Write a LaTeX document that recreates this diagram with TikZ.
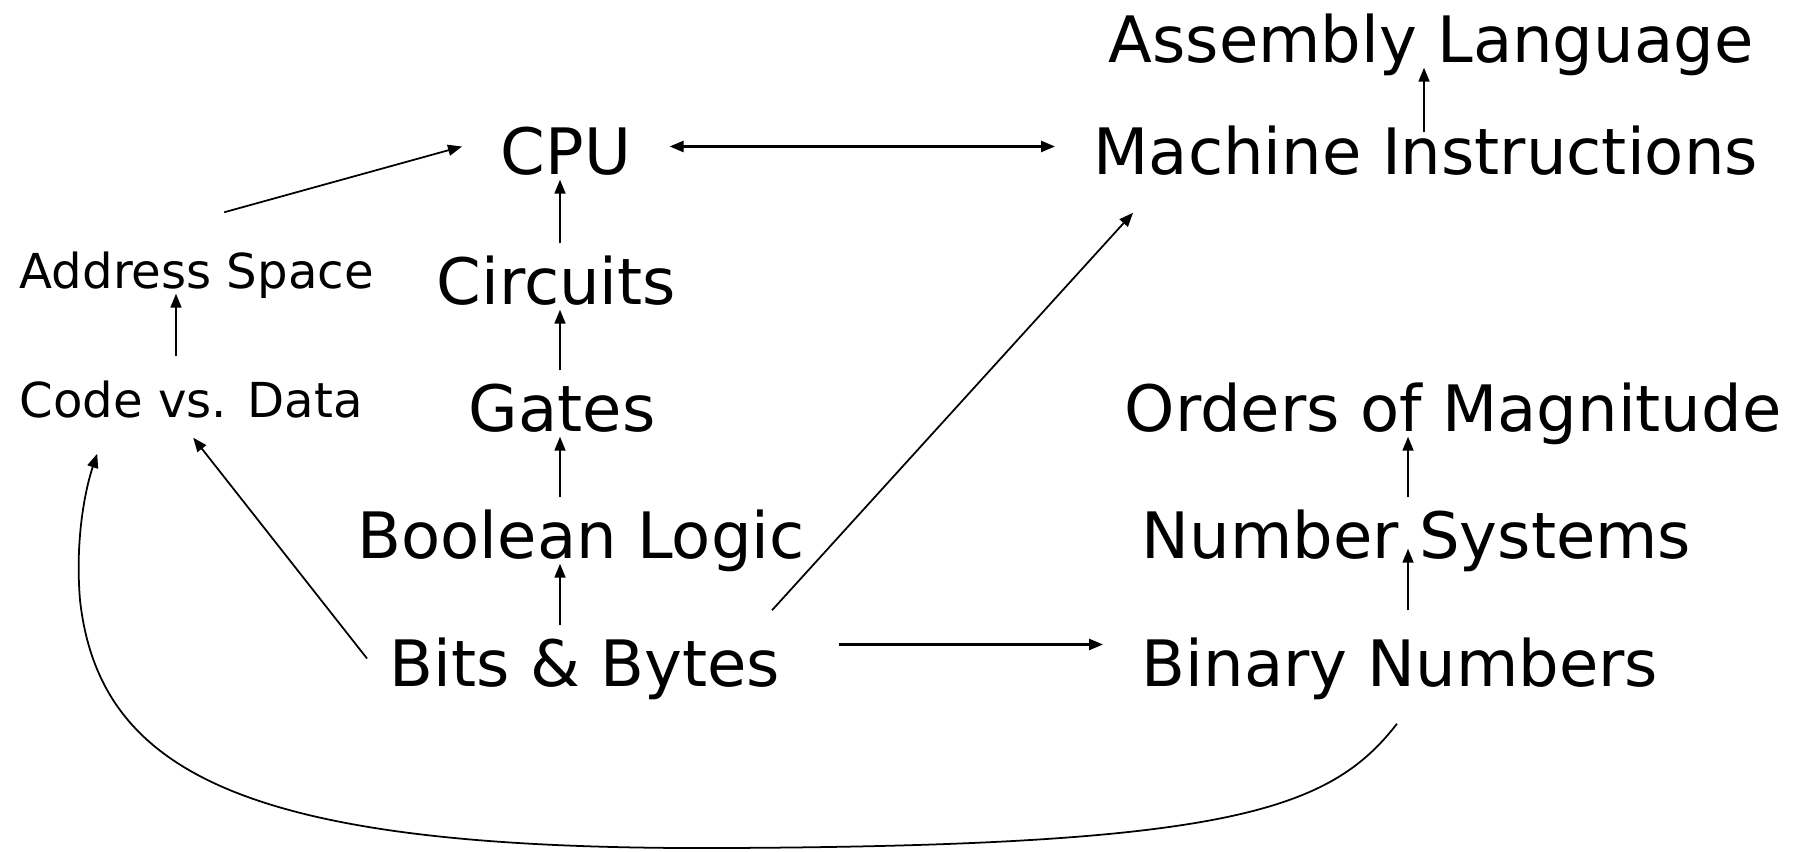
\documentclass[tikz,border=0pt]{standalone}
\usepackage{fontspec}
\setmainfont{DejaVu Sans}
\usetikzlibrary{arrows.meta}

\tikzset{
  topic/.style={anchor=base west, inner xsep=0.38cm, inner ysep=0.05cm,
    text height=0.55cm, text depth=0pt, font=\fontsize{18.2}{20}\selectfont},
  subtopic/.style={topic, font=\fontsize{13.7}{16}\selectfont},
  link/.style={-{Triangle[length=0.14cm,width=0.11cm]}, line width=0.5pt},
}

\begin{document}
\begin{tikzpicture}[x=0.01cm,y=-0.01cm]
    \useasboundingbox (0,0) rectangle (1795,851);
    \coordinate (hwcol) at (560,0);
    \coordinate (numcol) at (1408,0);
    \coordinate (asmcol) at (1424,0);
    \coordinate (sftcol) at (176,0);

    % Topics %
    \node[topic] (asm) at (1070,62) {Assembly Language};
    \node[topic] (cpu) at (462,174) {CPU};
    \node[topic] (mi) at (1055,174) {Machine Instructions};
    \node[subtopic] (addr) at (-19,288) {Address Space};
    \node[topic] (circ) at (398,304) {Circuits};
    \node[subtopic] (cvd) at (-19,417) {Code vs. Data};
    \node[topic] (gates) at (430,431) {Gates};
    \node[topic] (oom) at (1086,431) {Orders of Magnitude};
    \node[topic] (bool) at (319,558) {Boolean Logic};
    \node[topic] (ns) at (1103,558) {Number Systems};
    \node[topic] (bits) at (351,686) {Bits \& Bytes};
    \node[topic] (bn) at (1103,686) {Binary Numbers};

    % Links %
    \draw[link] (bits.north -| hwcol) -- (bool.south -| hwcol);
    \draw[link] (bool.north -| hwcol) -- (gates.south -| hwcol);
    \draw[link] (gates.north -| hwcol) -- (circ.south -| hwcol);
    \draw[link] (circ.north -| hwcol) -- (cpu.south -| hwcol);
    \draw[link] (cvd.north -| sftcol) -- (addr.south -| sftcol);
    \draw[link] ([xshift=0.275cm,yshift=0.15cm]addr.north) -- (cpu.west);
    \draw[link,{Triangle[length=0.14cm,width=0.11cm]}-{Triangle[length=0.14cm,width=0.11cm]},line width=0.7pt] (cpu.east) -- (mi.west);
    \draw[link] ([yshift=-0.19cm]mi.north -| asmcol) -- (asm.south -| asmcol);
    \draw[link] ([xshift=0.16cm]bits.west) -- ([xshift=0.02cm,yshift=-0.15cm]cvd.south);
    \draw[link] ([xshift=1.87cm,yshift=0.15cm]bits.north) -- ([xshift=0.78cm,yshift=-0.33cm]mi.south west);
    \draw[link,line width=0.7pt] ([yshift=0.14cm,xshift=0.2cm]bits.east) -- ([yshift=0.14cm]bn.west);
    \draw[link] ([yshift=0.15cm]bn.north -| numcol) -- ([yshift=0.15cm]ns.south -| numcol);
    \draw[link] (ns.north -| numcol) -- (oom.south -| numcol);
    \draw[link] ([xshift=-0.03cm,yshift=-0.32cm]bn.south)
        .. controls (1330,810) and (1230,846) .. (722,848)
        .. controls (260,850) and (100,780) .. (80,600)
        .. controls (75,540) and (85,490) .. ([xshift=-0.94cm,yshift=-0.31cm]cvd.south);
\end{tikzpicture}
\end{document}
